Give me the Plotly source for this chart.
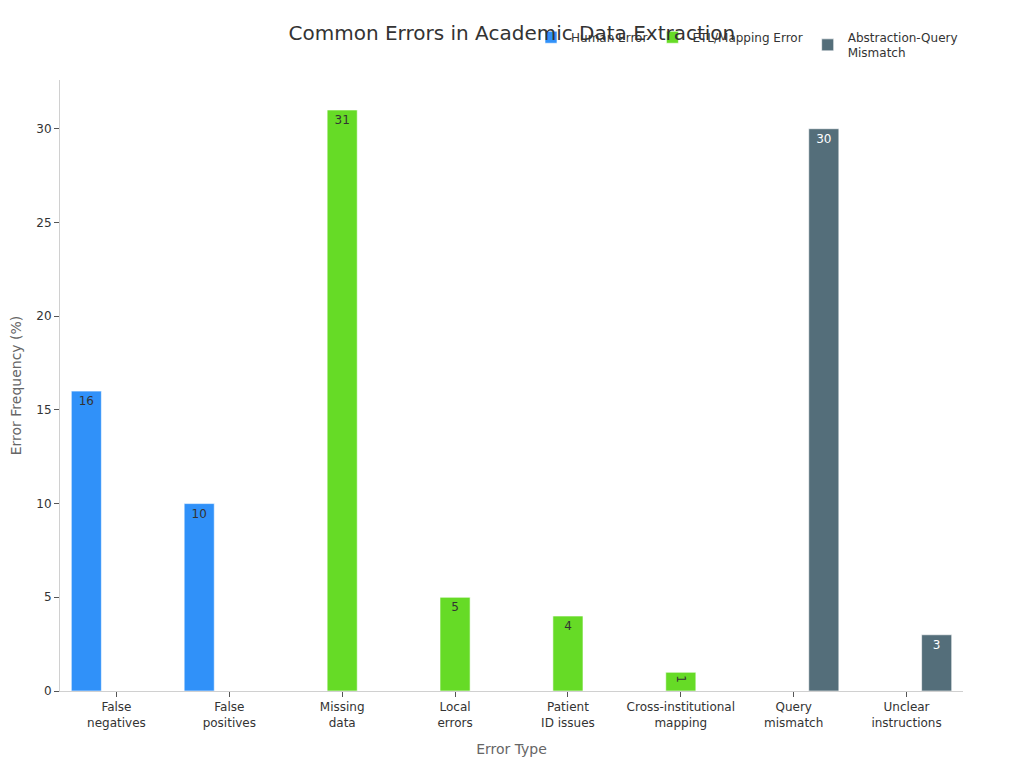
import plotly.graph_objects as go

categories = ["False<br>negatives", "False<br>positives", "Missing<br>data", "Local<br>errors",
              "Patient<br>ID issues", "Cross-institutional<br>mapping", "Query<br>mismatch",
              "Unclear<br>instructions"]
human_error = [16, 10, None, None, None, None, None, None]
etl_error = [None, None, 31, 5, 4, 1, None, None]
abstraction_error = [None, None, None, None, None, None, 30, 3]

series = [
    ("Human Error", human_error, "#3091F9", "#333333"),
    ("ETL/Mapping Error", etl_error, "#66DB26", "#333333"),
    ("Abstraction-Query<br>Mismatch", abstraction_error, "#546E7A", "#ffffff"),
]

fig = go.Figure()
for name, vals, color, tcolor in series:
    fig.add_trace(go.Bar(
        name=name, x=categories, y=vals,
        marker=dict(color=color, line=dict(color="rgba(255,255,255,0.6)", width=1)),
        text=[str(v) if v is not None else "" for v in vals],
        textposition="auto",
        textfont=dict(size=12, color=tcolor),
    ))

fig.update_layout(
    barmode="group",
    bargap=0.2,
    bargroupgap=0,
    width=1016, height=760,
    paper_bgcolor="white", plot_bgcolor="white",
    font=dict(family="DejaVu Sans", size=12, color="#333"),
    title=dict(text="Common Errors in Academic Data Extraction", x=0.496, xanchor="center",
               y=0.967, yanchor="middle", font=dict(size=20, color="#333")),
    margin=dict(l=52, r=61, t=72, b=77, autoexpand=False),
    legend=dict(orientation="h", x=1, xanchor="right", xref="paper",
                y=0.9806, yanchor="top", yref="container",
                font=dict(size=12, color="#333"), bgcolor="rgba(0,0,0,0)"),
    showlegend=True,
)
fig.update_xaxes(
    title=dict(text="Error Type", font=dict(size=14, color="#666")),
    showline=True, linecolor="#d0d0d0", linewidth=1, ticks="outside", tickcolor="#555",
    ticklen=5, showgrid=False, tickfont=dict(size=12, color="#333"), automargin=False,
)
fig.update_yaxes(
    title=dict(text="Error Frequency (%)", font=dict(size=14, color="#666"), standoff=18),
    range=[0, 32.6], dtick=5, showline=True, linecolor="#d0d0d0", linewidth=1,
    ticks="outside", tickcolor="#555", ticklen=5, showgrid=False, zeroline=False,
    tickfont=dict(size=12, color="#333"), automargin=False,
)

fig.write_html("out.html")
